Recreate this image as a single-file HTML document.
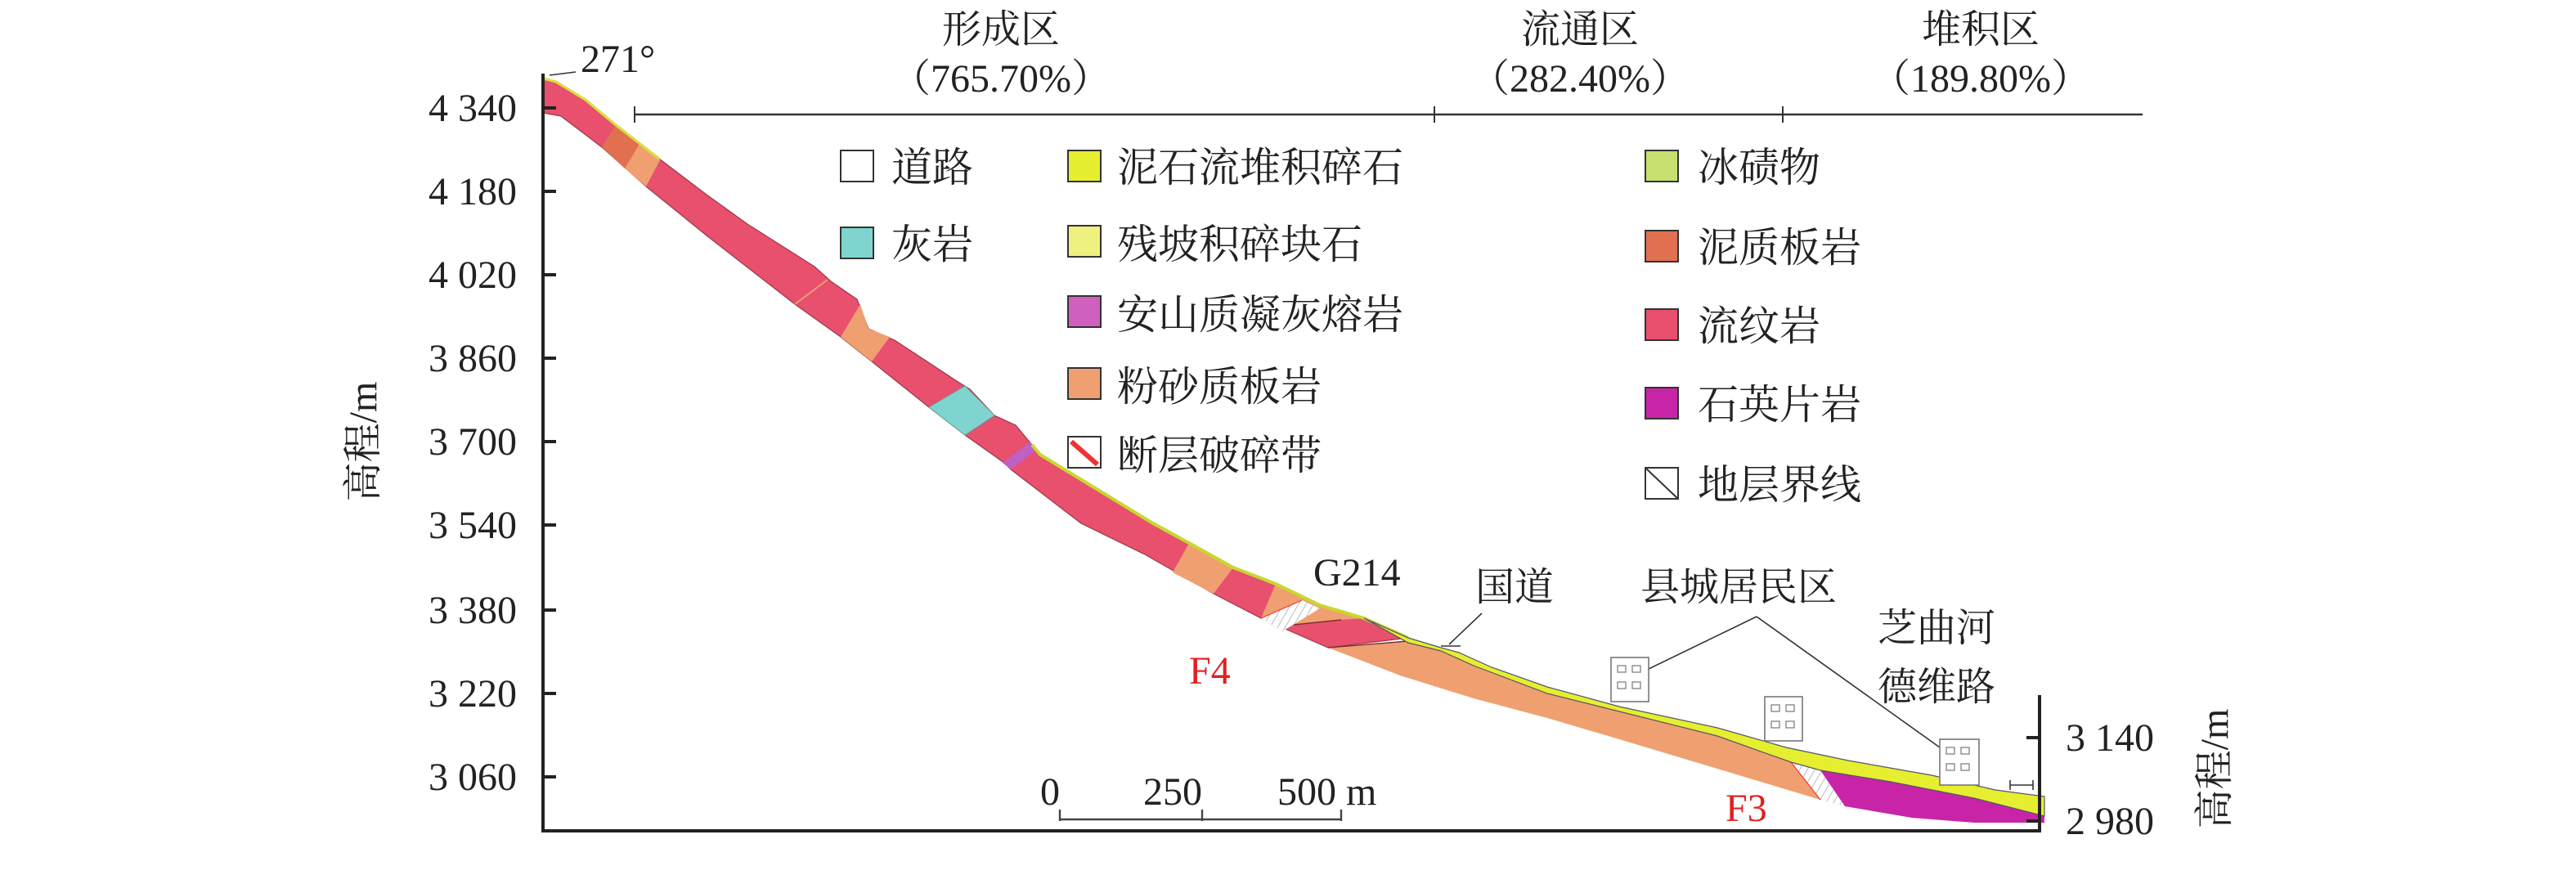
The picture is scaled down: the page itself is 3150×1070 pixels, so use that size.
<!DOCTYPE html>
<html><head><meta charset="utf-8"><style>
html,body{margin:0;padding:0;background:#fff}
svg{display:block}
text{font-family:"Liberation Serif","Noto Serif CJK SC",serif;fill:#222}
.c{font-family:"Liberation Serif","Noto Serif CJK SC","Noto Sans CJK SC",serif}
</style></head><body>
<svg width="3150" height="1070" viewBox="0 0 1575 535" preserveAspectRatio="none" xmlns="http://www.w3.org/2000/svg">
<defs>
<pattern id="h" width="4" height="4" patternUnits="userSpaceOnUse" patternTransform="rotate(30)"><rect width="4" height="4" fill="#fff"/><line x1="0" y1="0" x2="0" y2="4" stroke="#bbb" stroke-width="1"/></pattern>
</defs>
<polygon fill="#e8506e" stroke="#9a3a4a" stroke-width="0.6" points="332,48 340,50 358,61 376,76 403,97 432,119 457,137 498,163 508,172 524,183 531,201 547,208 585,233 593,238 608,254 621,260 631,272 636,278 705,320 727,332 754,347 780,357 807,370 834,378 861,390 812,396 771,378 742,363 700,339 661,320 618,287 614,283 590,266 568,249 533,221 514,206 486,186 432,144 395,114 368,90 343,71 332,69"/>
<polygon fill="#e07050" points="376,77 391,88 382,103 368,90"/>
<polygon fill="#f0a070" points="391,88 404,97 395,114 382,103"/>
<line x1="506" y1="171" x2="486" y2="186" stroke="#e8a070" stroke-width="1"/>
<polygon fill="#f0a070" points="526,186 531,201 544,206 533,221 514,206"/>
<polygon fill="#7fd4d0" stroke="#5a9" stroke-width="0.4" points="590,236 608,254 590,266 568,249"/>
<polygon fill="#c060c0" points="630,270 633,276 618,287 613,283"/>
<polygon fill="#f0a070" points="727,332 754,347 742,363 717,350"/>
<polygon fill="#f0a070" points="780,357 807,370 834,378 820,379 791,382 784,386 771,378"/>
<polygon fill="url(#h)" points="796,367 807,372 784,386 771,378"/>
<line x1="771" y1="378" x2="796" y2="367" stroke="#e33" stroke-width="0.6"/>
<polygon fill="#f0a070" points="861,392 881,398 901,407 946,424 990,435 1050,450 1095,466 1113,489 1050,470 990,452 946,439 901,427 856,413 812,396"/>
<line x1="812" y1="396" x2="861" y2="392" stroke="#7a3030" stroke-width="0.7"/>
<line x1="791" y1="382" x2="820" y2="379" stroke="#7a3030" stroke-width="0.7"/>
<polygon fill="url(#h)" points="1095,466 1113,471 1128,493 1113,489"/>
<line x1="1095" y1="466" x2="1113" y2="489" stroke="#e33" stroke-width="0.6"/>
<polygon fill="#c824a8" points="1113,471 1156,478 1207,488 1250,499 1250,503 1207,503 1169,500 1128,493"/>
<polyline fill="none" stroke="#d8e040" stroke-width="1.6" points="332,48 340,50 358,61 376,76 403,97"/>
<polyline fill="none" stroke="#c8d830" stroke-width="2" points="631,272 636,278 705,320 727,332 754,347 780,357 807,370 834,378 861,390"/>
<polygon fill="#e6ee30" stroke="#556" stroke-width="0.6" points="834,378 861,390 881,396 892,399 912,408 946,420 990,432 1050,445 1092,457 1130,465 1181,474 1220,483 1250,487 1250,499 1207,488 1156,478 1113,471 1095,466 1050,450 990,435 946,424 901,407 881,398 861,393"/>
<g stroke="#222" stroke-width="2" fill="none">
<line x1="332" y1="45" x2="332" y2="508"/>
<line x1="331" y1="508" x2="1248" y2="508"/>
<line x1="1247" y1="425" x2="1247" y2="508"/>
</g>
<g stroke="#222" stroke-width="2">
<line x1="332" y1="66" x2="340" y2="66"/><line x1="332" y1="117" x2="340" y2="117"/><line x1="332" y1="168" x2="340" y2="168"/><line x1="332" y1="219" x2="340" y2="219"/><line x1="332" y1="270" x2="340" y2="270"/><line x1="332" y1="321" x2="340" y2="321"/><line x1="332" y1="373" x2="340" y2="373"/><line x1="332" y1="424" x2="340" y2="424"/><line x1="332" y1="475" x2="340" y2="475"/>
<line x1="1239" y1="451" x2="1247" y2="451"/><line x1="1239" y1="502" x2="1247" y2="502"/>
</g>
<g font-size="24" text-anchor="end">
<text x="316" y="74">4 340</text><text x="316" y="125">4 180</text><text x="316" y="176">4 020</text><text x="316" y="227">3 860</text><text x="316" y="278">3 700</text><text x="316" y="329">3 540</text><text x="316" y="381">3 380</text><text x="316" y="432">3 220</text><text x="316" y="483">3 060</text>
</g>
<g font-size="24"><text x="1263" y="459">3 140</text><text x="1263" y="510">2 980</text></g>
<text class="c" font-size="24" transform="translate(230,270) rotate(-90)" text-anchor="middle">高程/m</text>
<text class="c" font-size="24" transform="translate(1362,470) rotate(-90)" text-anchor="middle">高程/m</text>
<line x1="388" y1="70" x2="1310" y2="70" stroke="#333" stroke-width="1.2"/>
<g stroke="#333" stroke-width="1"><line x1="388" y1="65" x2="388" y2="75"/><line x1="877" y1="65" x2="877" y2="75"/><line x1="1090" y1="65" x2="1090" y2="75"/></g>
<g class="c" font-size="24" text-anchor="middle">
<text x="612" y="26">形成区</text><text x="966" y="26">流通区</text><text x="1211" y="26">堆积区</text>
<text x="612" y="56">（765.70%）</text><text x="966" y="56">（282.40%）</text><text x="1211" y="56">（189.80%）</text>
</g>
<text x="355" y="44" font-size="24">271°</text>
<line x1="336" y1="46" x2="352" y2="44" stroke="#333" stroke-width="0.8"/>
<g stroke="#333" stroke-width="1">
<rect x="514" y="92" width="20" height="19" fill="#fff"/><rect x="514" y="139" width="20" height="19" fill="#7fd4d0"/>
<rect x="653" y="92" width="20" height="19" fill="#e6ee30"/><rect x="653" y="138" width="20" height="19" fill="#eef080"/><rect x="653" y="181" width="20" height="19" fill="#d060c0"/><rect x="653" y="225" width="20" height="19" fill="#f0a070"/><rect x="653" y="267" width="20" height="19" fill="#fff"/>
<rect x="1006" y="92" width="20" height="19" fill="#c8e070"/><rect x="1006" y="141" width="20" height="19" fill="#e07050"/><rect x="1006" y="189" width="20" height="19" fill="#e8506e"/><rect x="1006" y="237" width="20" height="19" fill="#c824a8"/><rect x="1006" y="286" width="20" height="19" fill="#fff"/>
<line x1="1006" y1="286" x2="1026" y2="305"/>
<line x1="655" y1="270" x2="671" y2="284" stroke="#e33" stroke-width="3"/>
</g>
<g class="c" font-size="25">
<text x="545" y="111">道路</text><text x="545" y="158">灰岩</text>
<text x="683" y="111">泥石流堆积碎石</text><text x="683" y="158">残坡积碎块石</text><text x="683" y="201">安山质凝灰熔岩</text><text x="683" y="245">粉砂质板岩</text><text x="683" y="287">断层破碎带</text>
<text x="1038" y="111">冰碛物</text><text x="1038" y="160">泥质板岩</text><text x="1038" y="208">流纹岩</text><text x="1038" y="256">石英片岩</text><text x="1038" y="305">地层界线</text>
</g>
<text x="803" y="358" font-size="24">G214</text>
<g class="c" font-size="24"><text x="902" y="367">国道</text><text x="1003" y="367">县城居民区</text><text x="1148" y="392">芝曲河</text><text x="1148" y="428">德维路</text></g>
<text x="727" y="418" font-size="24" style="fill:#e02020">F4</text>
<text x="1055" y="502" font-size="24" style="fill:#e02020">F3</text>
<g stroke="#333" stroke-width="0.8" fill="none">
<line x1="906" y1="375" x2="886" y2="394"/>
<line x1="1074" y1="377" x2="1008" y2="409"/><line x1="1074" y1="377" x2="1186" y2="457"/>
<line x1="881" y1="395" x2="893" y2="395"/>
<line x1="1229" y1="480" x2="1243" y2="480"/><line x1="1229" y1="477" x2="1229" y2="483"/><line x1="1243" y1="477" x2="1243" y2="483"/>
</g>
<g stroke="#777" stroke-width="0.8" fill="#fff">
<rect x="985" y="402" width="23" height="27"/><rect x="1079" y="426" width="23" height="27"/><rect x="1186" y="452" width="24" height="28"/>
</g>
<g stroke="#777" stroke-width="0.6" fill="#fff">
<rect x="989" y="407" width="5" height="4"/><rect x="998" y="407" width="5" height="4"/><rect x="989" y="417" width="5" height="4"/><rect x="998" y="417" width="5" height="4"/>
<rect x="1083" y="431" width="5" height="4"/><rect x="1092" y="431" width="5" height="4"/><rect x="1083" y="441" width="5" height="4"/><rect x="1092" y="441" width="5" height="4"/>
<rect x="1190" y="457" width="5" height="4"/><rect x="1199" y="457" width="5" height="4"/><rect x="1190" y="467" width="5" height="4"/><rect x="1199" y="467" width="5" height="4"/>
</g>
<g font-size="24"><text x="636" y="492">0</text><text x="699" y="492">250</text><text x="781" y="492">500 m</text></g>
<g stroke="#444" stroke-width="1.2"><line x1="648" y1="501" x2="820" y2="501"/><line x1="648" y1="495" x2="648" y2="502"/><line x1="735" y1="495" x2="735" y2="502"/><line x1="820" y1="495" x2="820" y2="502"/></g>
</svg>
</body></html>
